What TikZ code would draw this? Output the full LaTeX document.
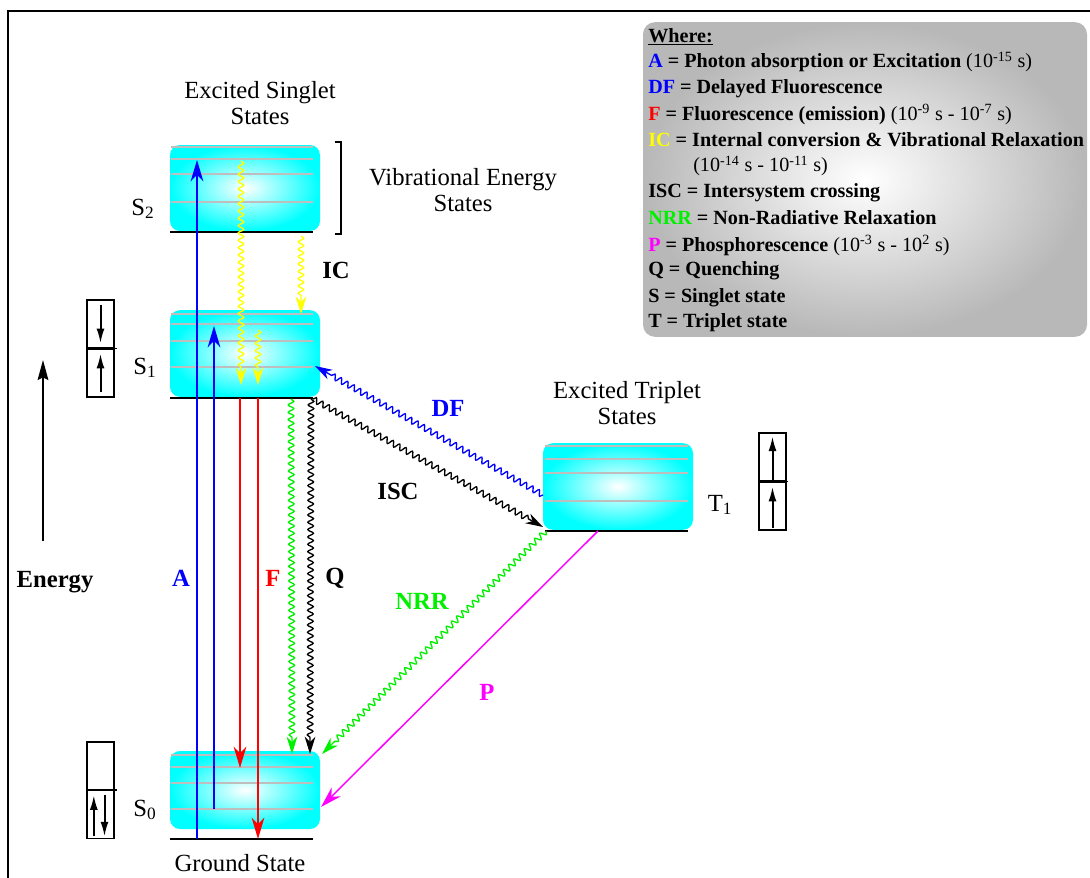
\documentclass[tikz,border=0pt]{standalone}
\usepackage{fontspec}
\setmainfont{Liberation Serif}
\usepackage{xcolor}
\usepackage{tikz}
\usetikzlibrary{arrows.meta,decorations.pathmorphing,calc}
\definecolor{absblue}  {RGB}{0,0,255}
\definecolor{fluored}  {RGB}{255,0,0}
\definecolor{icyellow} {RGB}{255,255,0}
\definecolor{nrrgreen} {RGB}{0,240,0}
\definecolor{phosmag}  {RGB}{255,0,255}
\definecolor{vibgrey}  {RGB}{190,190,190}

\begin{document}
\begin{tikzpicture}[
  x=0.75pt, y=-0.75pt,
  font=\fontsize{18.5}{19.5}\selectfont,
  statebox/.style={rounded corners=7.5pt, inner color=white, outer color=cyan,
    minimum width=112.5pt, minimum height=65pt, inner sep=0pt},
  vib/.style={vibgrey, line width=1.5pt},
  ground/.style={black, line width=2.2pt},
  spinhalf/.style={draw, line width=0.9pt, minimum width=20.25pt,
    minimum height=36pt, inner sep=0pt},
  spinarrow/.style={line width=1.5pt, -{Latex[length=11pt,width=6pt]}},
  radiative/.style={line width=1.5pt, -{Stealth[length=16pt,width=9.5pt,inset=5pt]}},
  wavy/.style={line width=1pt, decorate,
    decoration={snake, amplitude=2.1pt, segment length=5.5pt, post length=12pt},
    -{Stealth[length=13pt,width=8pt,inset=4pt]}},
  lbl/.style={font=\fontsize{18.5}{19.5}\selectfont\bfseries},
  keytxt/.style={anchor=west, inner sep=0pt, font=\fontsize{15.1}{18}\selectfont},
]
\useasboundingbox (0,0) rectangle (1090,878);

% Frame
\draw[line width=2pt] (1090,11) -- (8,11) -- (8,878);

% Energy levels
\node[statebox, minimum height=64.5pt] (S2lvl) at (245,188)   {};
\node[statebox]                        (S1lvl) at (245,353.5) {};
\node[statebox, minimum height=58.5pt] (S0lvl) at (245,790)   {};
\node[statebox]                        (T1lvl) at (618,486.5) {};

% Vibrational sub-levels and ground lines
\foreach \y in {147,159,174,202}{ \draw[vib] (171,\y) -- (313,\y); }
\foreach \y in {314,324,341,367}{ \draw[vib] (171,\y) -- (313,\y); }
\foreach \y in {755,767,783,809}{ \draw[vib] (171,\y) -- (313,\y); }
\foreach \y in {446,459,473,501}{ \draw[vib] (545,\y) -- (688,\y); }
\draw[ground] (170,232) -- (313,232);
\draw[ground] (170,398) -- (313,398);
\draw[ground] (170,839) -- (313,839);
\draw[ground] (545,531) -- (688,531);

% Level labels
\node (S2lab) at (143,209) {S\textsubscript{2}};
\node (S1lab) at (145,368) {S\textsubscript{1}};
\node (S0lab) at (145,810) {S\textsubscript{0}};
\node (T1lab) at (720,505) {T\textsubscript{1}};
\node[align=center] (singlet) at (260,103) {Excited Singlet\\States};
\node[align=center] (triplet) at (627,403) {Excited Triplet\\States};
\node[align=center] (vibstates) at (463,190) {Vibrational Energy\\States};
\node (groundst) at (240,863) {Ground State};
\draw[line width=1pt] (335,142) -- (341,142) -- (341,234) -- (335,234);

% Energy axis
\coordinate (ebot) at (43,541);
\coordinate (etop) at (43,360);
\draw[line width=1.5pt, -{Stealth[length=15pt,width=8pt,inset=2pt]}] (ebot) -- (etop);
\node[lbl] (energy) at (55,582) {Energy};

% Spin boxes
\node[spinhalf] (s1top) at (100.5,324) {};
\node[spinhalf] (s1bot) at (100.5,373) {};
\draw[line width=0.9pt] (s1bot.north west) -- ([xshift=1.5pt]s1bot.north east);
\draw[spinarrow] ([yshift=-4pt]s1top.north) -- ([yshift=4pt]s1top.south);
\draw[spinarrow] ([yshift=4pt]s1bot.south) -- ([yshift=-4pt]s1bot.north);

\node[spinhalf] (s0top) at (100.5,766) {};
\node[spinhalf] (s0bot) at (100.5,814.5) {};
\draw[line width=0.9pt] (s0bot.north west) -- ([xshift=1.5pt]s0bot.north east);
\draw[spinarrow] ([xshift=-5pt,yshift=2pt]s0bot.south) -- ([xshift=-5pt,yshift=-4pt]s0bot.north);
\draw[spinarrow] ([xshift=3pt,yshift=-4pt]s0bot.north) -- ([xshift=3pt,yshift=2pt]s0bot.south);

\node[spinhalf] (t1top) at (772.5,457) {};
\node[spinhalf] (t1bot) at (772.5,506) {};
\draw[line width=0.9pt] (t1bot.north west) -- ([xshift=1pt]t1bot.north east);
\draw[spinarrow] ([yshift=1.5pt]t1top.south) -- ([yshift=-3pt]t1top.north);
\draw[spinarrow] ([yshift=2pt]t1bot.south) -- ([yshift=-4pt]t1bot.north);

% Transition end points
\coordinate (a1s) at (197,839); \coordinate (a1e) at (197,160);
\coordinate (a2s) at (214,809); \coordinate (a2e) at (214,326);
\coordinate (f1s) at (240,398); \coordinate (f1e) at (240,768);
\coordinate (f2s) at (258,398); \coordinate (f2e) at (258,839);
\coordinate (ic1s) at (241,161); \coordinate (ic1e) at (241,385);
\coordinate (ic2s) at (258,330); \coordinate (ic2e) at (258,385);
\coordinate (ic3s) at (301,236); \coordinate (ic3e) at (301,314);
\coordinate (dfs) at (543,495);  \coordinate (dfe) at (315,366);
\coordinate (iscs) at (313,399); \coordinate (isce) at (543,527);
\coordinate (nrrs) at (546,531); \coordinate (nrre) at (322,754);
\coordinate (ps) at (598,531);   \coordinate (pe) at (321,807);
\coordinate (nvs) at (291,399);  \coordinate (nve) at (292,754);
\coordinate (qs) at (311,399);   \coordinate (qe) at (310,754);

% Radiative transitions
\draw[radiative, absblue] (a1s) -- (a1e);
\draw[radiative, absblue] (a2s) -- (a2e);
\draw[radiative, fluored] (f1s) -- (f1e);
\draw[radiative, fluored] (f2s) -- (f2e);
\draw[line width=1.1pt, phosmag, -{Stealth[length=16pt,width=9.5pt,inset=5pt]}] (ps) -- (pe);

% Non-radiative transitions
\draw[wavy, icyellow] (ic1s) -- (ic1e);
\draw[wavy, icyellow] (ic2s) -- (ic2e);
\draw[wavy, icyellow] (ic3s) -- (ic3e);
\draw[wavy, absblue] (dfs) -- (dfe);
\draw[wavy, black] (iscs) -- (isce);
\draw[wavy, nrrgreen] (nrrs) -- (nrre);
\draw[wavy, nrrgreen] (nvs) -- (nve);
\draw[wavy, black] (qs) -- (qe);

% Transition labels
\node[lbl, absblue]  (labA)   at (181,578) {A};
\node[lbl, fluored]  (labF)   at (273,578) {F};
\node[lbl]           (labQ)   at (335,578) {Q};
\node[lbl]           (labIC)  at (336,270) {IC};
\node[lbl, absblue]  (labDF)  at (448,408) {DF};
\node[lbl]           (labISC) at (398,491) {ISC};
\node[lbl, nrrgreen] (labNRR) at (422,601) {NRR};
\node[lbl, phosmag]  (labP)   at (487,692) {P};

% Legend
\node[rounded corners=9pt, inner color=white, outer color=black!28,
  minimum width=333pt, minimum height=236pt, inner sep=0pt] (key) at (865,179.5) {};
\node[keytxt] (kwhere) at (648,37)  {\textbf{\underline{Where:}}};
\node[keytxt] (ka)   at (648,62)  {\textbf{{\color{absblue}A} = Photon absorption or Excitation} (10\textsuperscript{-15} s)};
\node[keytxt] (kdf)  at (648,89)  {\textbf{{\color{absblue}DF} = Delayed Fluorescence}};
\node[keytxt] (kf)   at (648,114) {\textbf{{\color{fluored}F} = Fluorescence (emission)} (10\textsuperscript{-9} s - 10\textsuperscript{-7} s)};
\node[keytxt] (kic)  at (648,140) {\textbf{{\color{icyellow}IC} = Internal conversion \& Vibrational Relaxation}};
\node[keytxt] (kic2) at (693,166) {(10\textsuperscript{-14} s - 10\textsuperscript{-11} s)};
\node[keytxt] (kisc) at (648,193) {\textbf{ISC = Intersystem crossing}};
\node[keytxt] (knrr) at (648,218) {\textbf{{\color{nrrgreen}NRR} = Non-Radiative Relaxation}};
\node[keytxt] (kp)   at (648,245) {\textbf{{\color{phosmag}P} = Phosphorescence} (10\textsuperscript{-3} s - 10\textsuperscript{2} s)};
\node[keytxt] (kq)   at (648,271) {\textbf{Q = Quenching}};
\node[keytxt] (ks)   at (648,298) {\textbf{S = Singlet state}};
\node[keytxt] (kt)   at (648,323) {\textbf{T = Triplet state}};

\end{tikzpicture}
\end{document}
